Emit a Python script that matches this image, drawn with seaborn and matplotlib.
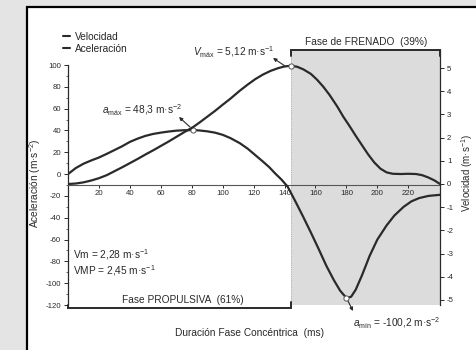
import matplotlib
matplotlib.use("Agg")
import matplotlib.pyplot as plt
import seaborn as sns
import pandas as pd
from matplotlib.patches import Rectangle
from matplotlib.lines import Line2D

# ---------------- data ----------------
t_acc = [0, 5, 10, 15, 20, 25, 30, 35, 40, 45, 50, 55, 60, 65, 70, 75, 81, 85, 90, 95,
         100, 105, 111, 116, 121, 126, 130, 134, 138, 142, 147, 152, 157, 162, 167, 172,
         176, 180, 183, 186, 190, 195, 200, 206, 211, 217, 222, 227, 233, 240.5]
acc = [0, 5.5, 9.5, 12.5, 15.2, 18.5, 22, 25.5, 29.5, 32.5, 35, 36.8, 38, 39, 39.8, 40.2,
       40.3, 40, 39.2, 38, 36, 33, 28.4, 23.5, 17.5, 11.5, 6.5, 0.5, -5, -11.5, -25, -39,
       -53.5, -68.5, -84, -97.5, -107, -113.5, -112.5, -106, -93, -75, -60, -47, -38, -30,
       -25, -22, -20, -19]

t_vel = [0, 5, 10, 15, 20, 25, 30, 35, 40, 45, 50, 55, 60, 65, 70, 75, 81, 85, 90, 95,
         100, 105, 111, 116, 121, 126, 131, 136, 140, 144, 148, 152, 157, 161, 165, 169,
         174, 178, 182, 186, 190, 194, 198, 202, 206, 210, 215, 220, 225, 229, 233, 237, 240.5]
vel = [0, 0.02, 0.07, 0.15, 0.25, 0.38, 0.55, 0.72, 0.9, 1.08, 1.27, 1.45, 1.64, 1.83,
       2.03, 2.23, 2.46, 2.65, 2.9, 3.15, 3.42, 3.68, 4.02, 4.28, 4.52, 4.72, 4.88, 5.0,
       5.07, 5.1, 5.06, 4.95, 4.75, 4.5, 4.2, 3.85, 3.35, 2.9, 2.5, 2.08, 1.68, 1.28, 0.93,
       0.66, 0.5, 0.44, 0.43, 0.44, 0.43, 0.38, 0.28, 0.15, 0.0]

x_ticks = [20, 40, 60, 80, 100, 120, 140, 160, 180, 200, 220]
acc_ticks = [100, 80, 60, 40, 20, 0, -20, -40, -60, -80, -100, -120]
vel_ticks = [5, 4, 3, 2, 1, 0, -1, -2, -3, -4, -5]

phase_split = 144        # ms, end of propulsive phase
t_end = 240.5
acc_max_pt = (81, 40.3)
acc_min_pt = (180, -113.5)
vel_max_pt = (144, 5.1)

legend_labels = ["Velocidad", "Aceleración"]
txt_vmax = r"$V_{\mathrm{máx}}$ = 5,12 m·s$^{-1}$"
txt_amax = r"$a_{\mathrm{máx}}$ = 48,3 m·s$^{-2}$"
txt_amin = r"$a_{\mathrm{mín}}$ = -100,2 m·s$^{-2}$"
txt_vm = r"Vm = 2,28 m·s$^{-1}$"
txt_vmp = r"VMP = 2,45 m·s$^{-1}$"
txt_fren = "Fase de FRENADO  (39%)"
txt_prop = "Fase PROPULSIVA  (61%)"
xlabel = "Duración Fase Concéntrica  (ms)"
ylabel_l = r"Aceleración (m·s$^{-2}$)"
ylabel_r = r"Velocidad (m·s$^{-1}$)"

# ---------------- style ----------------
sns.set_style("ticks")
plt.rcParams['font.family'] = ['Liberation Sans', 'DejaVu Sans']
plt.rcParams['mathtext.fontset'] = 'custom'
plt.rcParams['mathtext.rm'] = 'Liberation Sans'
plt.rcParams['mathtext.it'] = 'Liberation Sans:italic'
plt.rcParams['mathtext.bf'] = 'Liberation Sans:bold'

W, H = 477, 350
def fx(x): return x / W
def fy(y): return 1 - y / H

LC = '#2a2a2a'
FS = 7.3
TFS = 5.6

fig = plt.figure(figsize=(W / 100, H / 100), dpi=100, facecolor='#e4e4e4')
panel = Rectangle((fx(27), -0.1), 1.2, fy(7) + 0.1, transform=fig.transFigure,
                  facecolor='white', edgecolor='black', lw=1.6, zorder=-5)
fig.add_artist(panel)

ax = fig.add_axes([fx(68), fy(305), (440 - 68) / W, (305 - 50) / H])
ax.set_facecolor('none')
ax2 = ax.twinx()
ax2.set_facecolor('none')

ax.axvspan(phase_split, t_end, color='#dcdcdc', lw=0, zorder=0)
ax.axvline(phase_split, color='#a0a0a0', lw=0.6, ls=':', zorder=1)

df_a = pd.DataFrame({"t": t_acc, "a": acc})
df_v = pd.DataFrame({"t": t_vel, "v": vel})
sns.lineplot(data=df_a, x="t", y="a", ax=ax, color=LC, lw=1.6, zorder=3)
sns.lineplot(data=df_v, x="t", y="v", ax=ax2, color=LC, lw=1.6, zorder=3)

ax.scatter([acc_max_pt[0], acc_min_pt[0]], [acc_max_pt[1], acc_min_pt[1]], s=14,
           facecolor='white', edgecolor='#555555', lw=0.7, zorder=4)
ax2.scatter([vel_max_pt[0]], [vel_max_pt[1]], s=14, facecolor='white',
            edgecolor='#555555', lw=0.7, zorder=4)

ax.set_xlim(0, t_end)
ax.set_ylim(-120, 113.75)
ax2.set_ylim(-5.22, 5.78)

ax.set_xticks(x_ticks)
ax.set_yticks(acc_ticks)
ax.set_yticks(list(range(-110, 100, 20)), minor=True)
ax2.set_yticks(vel_ticks)
ax.set_yticklabels([str(v) for v in acc_ticks])
ax2.set_yticklabels([str(v) for v in vel_ticks])

for a in (ax, ax2):
    a.set_xlabel("")
    a.set_ylabel("")
    for s in a.spines.values():
        s.set_visible(False)

ax.spines['left'].set_visible(True)
ax.spines['left'].set_bounds(-120, 100)
ax.spines['left'].set_color(LC)
ax.spines['left'].set_linewidth(0.9)
ax.spines['bottom'].set_visible(True)
ax.spines['bottom'].set_position(('axes', (305 - 185) / 255))
ax.spines['bottom'].set_color('#555555')
ax.spines['bottom'].set_linewidth(0.8)
ax2.spines['right'].set_visible(True)
ax2.spines['right'].set_color(LC)
ax2.spines['right'].set_linewidth(0.9)

ax.tick_params(axis='x', direction='out', length=2, width=0.7, pad=1.5,
               labelsize=TFS, colors=LC)
ax.tick_params(axis='y', which='major', direction='out', length=3, width=0.7,
               pad=2, labelsize=TFS, colors=LC)
ax.tick_params(axis='y', which='minor', direction='out', length=1.5, width=0.5, colors=LC)
ax2.tick_params(axis='y', direction='out', length=3, width=0.7, pad=2,
                labelsize=TFS, colors=LC)

# phase brackets
xt = ax.get_xaxis_transform()
ax.plot([phase_split, phase_split, t_end, t_end], [0.975, 1.0, 1.0, 0.975],
        transform=xt, color=LC, lw=1.4, clip_on=False, solid_joinstyle='miter')
ax.plot([0, 0, phase_split, phase_split], [0.0, -0.012, -0.012, 0.01],
        transform=xt, color=LC, lw=1.4, clip_on=False, solid_joinstyle='miter')

# texts
fig.text(fx(366), fy(42), txt_fren, fontsize=FS, ha='center', va='center', color=LC)
fig.text(fx(183), fy(300), txt_prop, fontsize=FS, ha='center', va='center', color=LC)
fig.text(fx(73), fy(255), txt_vm, fontsize=FS, ha='left', va='center', color=LC)
fig.text(fx(73), fy(271), txt_vmp, fontsize=FS, ha='left', va='center', color=LC)
fig.text(fx(234), fy(52), txt_vmax, fontsize=FS, ha='center', va='center', color=LC)
fig.text(fx(142), fy(110), txt_amax, fontsize=FS, ha='center', va='center', color=LC)
fig.text(fx(397), fy(323), txt_amin, fontsize=FS, ha='center', va='center', color=LC)
fig.text(fx(250), fy(333), xlabel, fontsize=FS, ha='center', va='center', color=LC)
fig.text(fx(35), fy(183), ylabel_l, fontsize=FS, ha='center', va='center',
         rotation=90, color=LC)
fig.text(fx(467), fy(173), ylabel_r, fontsize=7.0, ha='center', va='center',
         rotation=90, color=LC)

# annotation arrows (head at the label side)
arw = dict(arrowstyle='-|>', color=LC, lw=0.8, mutation_scale=5, shrinkA=0, shrinkB=0)
for head, tail in [((273, 58), (285, 66)), ((179, 117), (190, 127)), ((353, 311), (348, 301))]:
    ax.annotate("", xy=(fx(head[0]), fy(head[1])), xycoords='figure fraction',
                xytext=(fx(tail[0]), fy(tail[1])), textcoords='figure fraction',
                arrowprops=arw)

# legend
handles = [Line2D([], [], color=LC, lw=1.5), Line2D([], [], color=LC, lw=1.5)]
fig.legend(handles, legend_labels, loc='upper left', bbox_to_anchor=(fx(63), fy(32)),
           frameon=False, fontsize=FS, handlelength=0.7, handletextpad=0.5,
           labelspacing=0.2, borderpad=0, borderaxespad=0)

fig.savefig("out.png", dpi=100, facecolor=fig.get_facecolor())
